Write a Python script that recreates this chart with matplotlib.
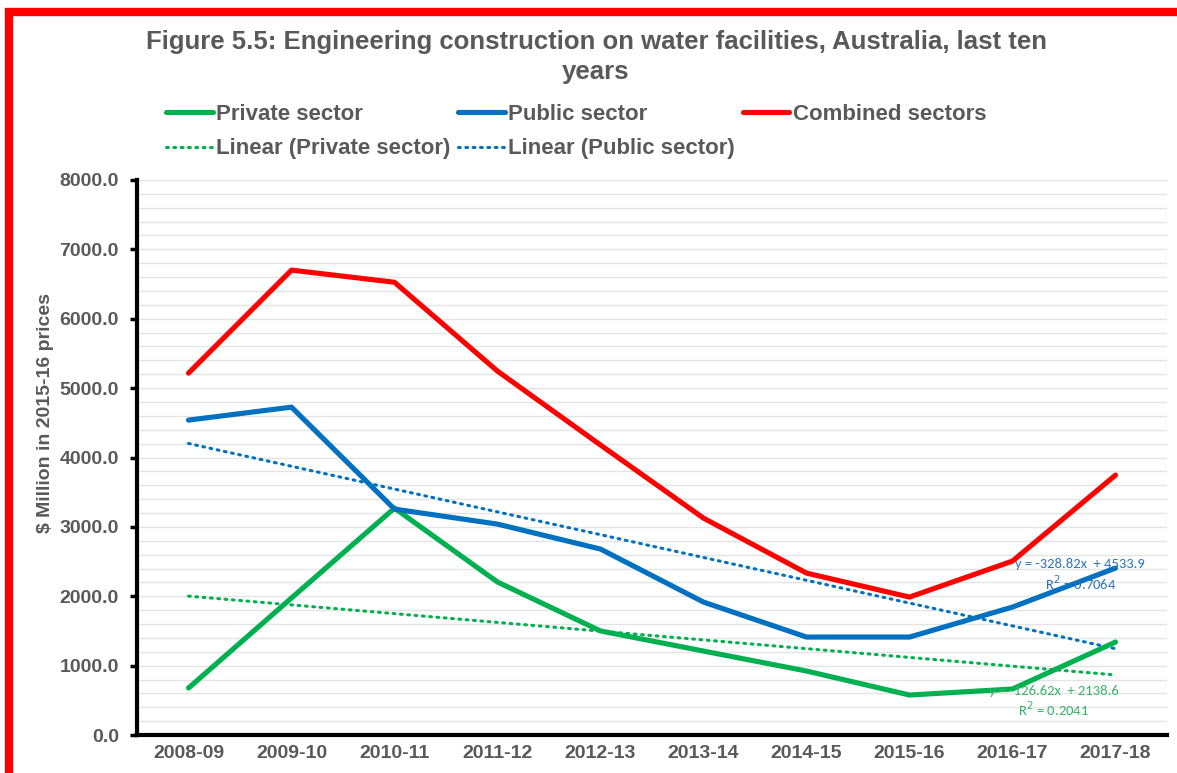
import numpy as np
import matplotlib
matplotlib.use("Agg")
import matplotlib.pyplot as plt
from matplotlib.ticker import MultipleLocator, FormatStrFormatter
from matplotlib.patches import Rectangle

# data ($ million, 2015-16 prices)
years = ["2008-09", "2009-10", "2010-11", "2011-12", "2012-13",
         "2013-14", "2014-15", "2015-16", "2016-17", "2017-18"]
private = [677, 1975, 3270, 2205, 1500, 1210, 922, 576, 663, 1340]
public = [4539, 4726, 3256, 3040, 2680, 1916, 1412, 1412, 1844, 2406]
combined = [5216, 6701, 6526, 5245, 4180, 3126, 2334, 1988, 2507, 3746]

private_eq = ["y = -126.62x  + 2138.6", "R$^2$ = 0.2041"]
public_eq = ["y = -328.82x  + 4533.9", "R$^2$ = 0.7064"]

GREEN, BLUE, RED = "#00B050", "#0070C0", "#FF0000"
GREY = "#595959"

plt.rcParams["font.family"] = ["Liberation Sans", "DejaVu Sans"]

W, H = 1177, 773
fig = plt.figure(figsize=(W / 100, H / 100), dpi=100)
ax = fig.add_axes([137 / W, 1 - 735 / H, (1167 - 137) / W, (735 - 180) / H])

x = np.arange(len(years))
lw = 3.7
h_priv, = ax.plot(x, private, color=GREEN, lw=lw, solid_capstyle="round", zorder=4)
h_pub, = ax.plot(x, public, color=BLUE, lw=lw, solid_capstyle="round", zorder=4)
h_comb, = ax.plot(x, combined, color=RED, lw=lw, solid_capstyle="round", zorder=4)

# Excel-style linear trendlines (x = 1..n)
xn = x + 1
tp = np.polyval(np.polyfit(xn, private, 1), xn)
tb = np.polyval(np.polyfit(xn, public, 1), xn)
dots = (0, (0.6, 1.8))
h_lpriv, = ax.plot(x, tp, color=GREEN, lw=2.2, ls=dots, dash_capstyle="round", zorder=3)
h_lpub, = ax.plot(x, tb, color=BLUE, lw=2.2, ls=dots, dash_capstyle="round", zorder=3)

# trendline equations
eq_font = ["Carlito", "Liberation Sans"]
for (xp, yp), s, c in [((1080, 564), public_eq[0], "#2E75B6"),
                       ((1081, 583), public_eq[1], "#2E75B6"),
                       ((1054, 691), private_eq[0], "#3BB26A"),
                       ((1054, 709), private_eq[1], "#3BB26A")]:
    fig.text(xp / W, 1 - yp / H, s, ha="center", va="center",
             color=c, fontsize=10.5, family=eq_font, zorder=6)

ax.set_xlim(-0.5, len(years) - 0.5)
ax.set_ylim(0, 8000)
ax.set_xticks(x)
ax.set_xticklabels(years)
ax.yaxis.set_major_locator(MultipleLocator(1000))
ax.yaxis.set_minor_locator(MultipleLocator(200))
ax.yaxis.set_major_formatter(FormatStrFormatter("%.1f"))
ax.grid(axis="y", which="both", color="#E4E4E4", lw=1.0, zorder=0)
ax.set_axisbelow(True)

for s in ["top", "right"]:
    ax.spines[s].set_visible(False)
for s in ["left", "bottom"]:
    ax.spines[s].set_color("black")
    ax.spines[s].set_linewidth(3)

ax.tick_params(axis="y", which="major", length=5, width=2.5, color="black",
               labelsize=14, labelcolor=GREY, pad=8)
ax.tick_params(axis="y", which="minor", length=0)
ax.tick_params(axis="x", length=0, labelsize=14, labelcolor=GREY, pad=7)
for lab in ax.get_xticklabels() + ax.get_yticklabels():
    lab.set_fontweight("bold")

fig.text(46 / W, 1 - 413 / H, "$ Million in 2015-16 prices", rotation=90, ha="center", va="center",
         fontsize=14, fontweight="bold", color=GREY)

fig.text(596 / W, 1 - 57 / H, "Figure 5.5: Engineering construction on water facilities, Australia, last ten\nyears",
         ha="center", va="center", fontsize=18.5, fontweight="bold", color=GREY, linespacing=1.3)

leg = fig.legend([h_priv, h_lpriv, h_pub, h_lpub, h_comb],
                 ["Private sector", "Linear (Private sector)", "Public sector",
                  "Linear (Public sector)", "Combined sectors"],
                 ncol=3, loc="upper left", bbox_to_anchor=(166 / W, 1 - 104 / H),
                 frameon=False, handlelength=2.1, handletextpad=0.15, columnspacing=0.35,
                 labelspacing=0.6, borderaxespad=0, borderpad=0,
                 prop={"weight": "bold", "size": 16})
for t in leg.get_texts():
    t.set_color(GREY)

# red frame around the chart
fig.patches.append(Rectangle((9 / W, -0.05), 1.2, 1 - 12 / H + 0.05, transform=fig.transFigure,
                             fill=False, edgecolor=RED, lw=6, zorder=10))

fig.savefig("out.png", dpi=100)
